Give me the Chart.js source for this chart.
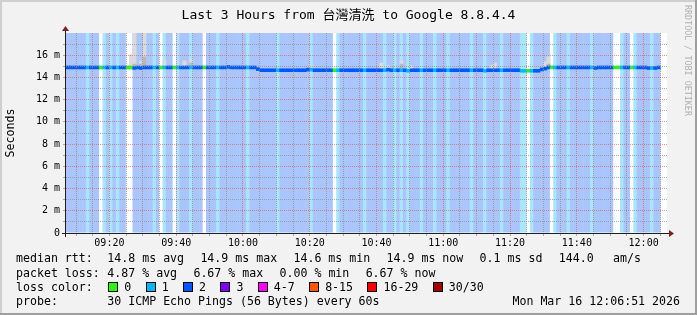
<!DOCTYPE html>
<html>
<head>
<meta charset="utf-8">
<script src="https://cdn.jsdelivr.net/npm/chart.js"></script>
<style>
  html, body { margin: 0; padding: 0; background: #f2f2f2; }
  #wrap { position: relative; width: 697px; height: 315px; overflow: hidden;
          font-family: 'DejaVu Sans Mono', 'Noto Sans CJK TC', monospace; color: #000; }
  #c { position: absolute; left: 0; top: 0; }
  .title { position: absolute; left: 0; top: 7px; width: 697px; text-align: center;
           font-size: 13px; line-height: 16px; white-space: pre; }
  .mark { position: absolute; left: 683px; top: 5px; writing-mode: vertical-rl;
          font-size: 8.4px; line-height: 9px; color: #b0b0b0; white-space: pre; }
  .row { position: absolute; left: 16px; font-size: 11.6px; line-height: 14px; white-space: pre; }
  .row .lbl { display: inline-block; width: 91.3px; }
  .row .itm { display: inline-block; margin-right: 16.3px; }
  .row .box { display: inline-block; width: 8px; height: 8px; border: 1px solid #000;
              vertical-align: -1px; margin-right: 6px; }
  .row .leg { display: inline-block; margin-right: 14.4px; }
  .date { position: absolute; right: 17px; top: 294px; font-size: 11.6px; line-height: 14px; white-space: pre; }
</style>
</head>
<body>
<div id="wrap">
  <canvas id="c" width="697" height="315"></canvas>
  <div class="title">Last 3 Hours from 台灣清洗 to Google 8.8.4.4</div>
  <div class="mark">RRDTOOL / TOBI OETIKER</div>
  <div class="row" id="rttRow" style="top:251px"></div>
  <div class="row" id="lossRow" style="top:266px"></div>
  <div class="row" id="legRow" style="top:280px"></div>
  <div class="row" id="probeRow" style="top:294px"></div>
  <div class="date" id="dateTxt"></div>
</div>
<script>
// --- data ----------------------------------------------------------------
// one column per minute, first column starts 09:07
const firstMinute = 7;            // minutes after 09:00
const spanMinutes = 180;

// lost pings (out of 30) per minute
const lossCount = [
  2,2,2,2,2,2,1,2,2,2,   // 09:07
  0,1,2,1,2,1,2,2,0,0,   // 09:17
  2,2,2,2,2,2,1,2,0,1,   // 09:27
  2,2,0,1,2,2,2,1,2,2,   // 09:37
  2,0,2,2,2,1,2,2,2,2,   // 09:47
  2,2,2,2,1,2,2,2,2,2,   // 09:57
  2,2,2,1,2,2,2,2,2,2,   // 10:07
  2,2,2,1,2,2,2,2,2,2,   // 10:17
  0,1,2,2,2,2,2,2,2,1,   // 10:27
  2,2,2,2,2,1,2,2,1,2,   // 10:37
  1,2,1,2,2,2,1,2,2,2,   // 10:47
  1,2,2,2,1,2,2,2,2,2,   // 10:57
  2,1,2,2,2,1,2,2,2,2,   // 11:07
  1,2,2,2,2,2,1,1,0,1,   // 11:17
  2,2,2,2,2,0,1,2,2,2,   // 11:27
  1,2,2,2,2,2,2,1,2,2,   // 11:37
  2,2,2,2,0,0,1,2,2,0,   // 11:47
  1,2,2,2,2,1,2,2        // 11:57
];

// median rtt per minute (ms)
const medianRtt = [
  14.9,14.9,14.9,14.9,14.9,14.9,14.9,14.9,14.9,14.9,
  14.9,14.9,14.9,14.9,14.9,14.9,14.9,14.9,14.9,14.9,
  14.85,14.9,14.85,14.9,14.9,14.9,14.9,14.9,14.9,14.9,
  14.9,14.9,14.9,14.9,14.9,14.9,14.9,14.9,14.9,14.9,
  14.9,14.9,14.9,14.9,14.9,14.9,14.9,14.9,14.95,14.9,
  14.9,14.9,14.9,14.9,14.9,14.9,14.9,14.75,14.65,14.65,
  14.65,14.65,14.65,14.65,14.65,14.65,14.65,14.65,14.65,14.65,
  14.65,14.65,14.7,14.7,14.65,14.65,14.65,14.65,14.65,14.65,
  14.65,14.65,14.65,14.65,14.65,14.65,14.65,14.65,14.65,14.65,
  14.65,14.65,14.65,14.65,14.65,14.65,14.7,14.65,14.65,14.65,
  14.65,14.65,14.6,14.65,14.65,14.65,14.65,14.65,14.65,14.65,
  14.65,14.65,14.65,14.65,14.65,14.65,14.65,14.65,14.65,14.65,
  14.65,14.65,14.65,14.65,14.65,14.6,14.65,14.65,14.65,14.65,
  14.65,14.65,14.65,14.65,14.65,14.65,14.6,14.6,14.6,14.6,
  14.6,14.6,14.72,14.8,14.9,14.9,14.9,14.9,14.9,14.9,
  14.9,14.9,14.9,14.9,14.9,14.9,14.9,14.9,14.85,14.9,
  14.9,14.9,14.9,14.9,14.9,14.9,14.9,14.9,14.9,14.9,
  14.9,14.9,14.9,14.9,14.85,14.85,14.85,14.9
];

// smoke (spread of the pings) where it shows above the median
const smokeCols = [19, 20, 22, 23, 29, 34, 35, 37, 48, 73, 94, 96, 100, 103, 127, 128, 143, 144];
const smokeTop  = [16.05, 18, 15.5, 18, 15.5, 15.1, 15.5, 15.65, 15.1, 15.1, 15.3, 15.05, 15.5, 15.05, 15.1, 15.3, 15.4, 15.85];
const smokeCore = [null, 15.2, 15.2, 15.85, null, null, null, 15.3, null, null, null, null, 15.2, null, null, null, null, 15.2];

const timeTicks = ['09:20', '09:40', '10:00', '10:20', '10:40', '11:00', '11:20', '11:40', '12:00'];
const rttTicks  = ['0', '2 m', '4 m', '6 m', '8 m', '10 m', '12 m', '14 m', '16 m'];

const rttStats  = ['14.8 ms avg', '14.9 ms max', '14.6 ms min', '14.9 ms now', '0.1 ms sd', '144.0', 'am/s'];
const lossStats = ['4.87 % avg', '6.67 % max', '0.00 % min', '6.67 % now'];
const legendLabels = ['0', '1', '2', '3', '4-7', '8-15', '16-29', '30/30'];
const legendColors = ['#26ff00', '#00b8ff', '#0059ff', '#7e00ff', '#ff00ff', '#ff5500', '#ff0000', '#a10000'];
const probeText = '30 ICMP Echo Pings (56 Bytes) every 60s';
const dateText  = 'Mon Mar 16 12:06:51 2026';

// --- styling ---------------------------------------------------------------
const MONO = "'DejaVu Sans Mono', monospace";
const lossShade = ['#ffffff', '#a9e5fd', '#a9c5fc'];   // column background by loss
const GRID  = 'rgba(143,143,143,0.75)';
const MGRID = 'rgba(222,79,79,0.6)';
const lineHalf = 0.13;                                  // half thickness of median mark (ms)

// --- text rows under the graph ----------------------------------------------
function fillRow(id, label, items, cls) {
  const row = document.getElementById(id);
  row.innerHTML = `<span class="lbl">${label}</span>` +
    items.map((t, i) => `<span class="${cls}"${i === 6 ? ' style="margin-left:3px"' : ''}>${t}</span>`).join('');
}
fillRow('rttRow', 'median rtt:', rttStats, 'itm');
fillRow('lossRow', 'packet loss:', lossStats, 'itm');
document.getElementById('legRow').innerHTML = '<span class="lbl" style="width:92.3px">loss color:</span>' +
  legendLabels.map((l, i) => `<span class="box" style="background:${legendColors[i]}"></span><span class="leg">${l}</span>`).join('');
fillRow('probeRow', 'probe:', [probeText], 'itm');
document.getElementById('dateTxt').textContent = dateText;

// --- chart ---------------------------------------------------------------
const colX = lossCount.map((_, i) => firstMinute + i + 0.5);

const frame = {
  id: 'frame',
  beforeDraw(chart) {
    const { ctx, width, height, chartArea: a } = chart;
    ctx.save();
    ctx.fillStyle = '#f2f2f2';
    ctx.fillRect(0, 0, width, height);
    ctx.fillStyle = '#cfcfcf';
    ctx.fillRect(0, 0, width, 2);
    ctx.fillRect(0, 0, 2, height);
    ctx.fillStyle = '#9e9e9e';
    ctx.fillRect(0, height - 2, width, 2);
    ctx.fillRect(width - 2, 0, 2, height);
    ctx.fillStyle = '#ffffff';
    ctx.fillRect(a.left, a.top, a.right - a.left, a.bottom - a.top);
    ctx.restore();
  }
};

// axis lines with the little rrdtool arrows
const axisArrows = {
  id: 'axisArrows',
  afterDraw(chart) {
    const { ctx, chartArea: a } = chart;
    const ax = a.left - 0.5, ay = a.bottom + 0.5;
    ctx.save();
    ctx.strokeStyle = '#1f1f1f';
    ctx.lineWidth = 1;
    ctx.beginPath();
    ctx.moveTo(a.left - 4, ay); ctx.lineTo(a.right + 3, ay);
    ctx.moveTo(ax, a.bottom + 4); ctx.lineTo(ax, a.top - 3);
    ctx.stroke();
    ctx.fillStyle = '#801f1f';
    ctx.beginPath();
    ctx.moveTo(a.right + 2, ay - 3.5); ctx.lineTo(a.right + 7, ay); ctx.lineTo(a.right + 2, ay + 3.5);
    ctx.closePath(); ctx.fill();
    ctx.beginPath();
    ctx.moveTo(ax - 3.5, a.top - 2); ctx.lineTo(ax, a.top - 7); ctx.lineTo(ax + 3.5, a.top - 2);
    ctx.closePath(); ctx.fill();
    ctx.restore();
  }
};

// grid colour: red on labelled ticks, grey otherwise
const gridColor = (every) => (c) => (c.tick && c.tick.value % every === 0 ? MGRID : GRID);

const barBase = { type: 'bar', grouped: false, borderWidth: 0, borderSkipped: false,
                  barPercentage: 1, categoryPercentage: 1 };

const cfg = {
  type: 'bar',
  data: {
    datasets: [
      { ...barBase, label: 'median rtt', order: 0,
        data: medianRtt.map((m, i) => ({ x: colX[i], y: [m - lineHalf, m + lineHalf] })),
        backgroundColor: lossCount.map(l => legendColors[l]) },
      { ...barBase, label: 'smoke core', order: 1,
        data: smokeCols.filter((c, i) => smokeCore[i] != null)
                       .map(c => ({ x: colX[c], y: [medianRtt[c], smokeCore[smokeCols.indexOf(c)]] })),
        backgroundColor: '#b8b8b8' },
      { ...barBase, label: 'smoke', order: 2,
        data: smokeCols.map((c, i) => ({ x: colX[c], y: [medianRtt[c], smokeTop[i]] })),
        backgroundColor: '#dadada' },
      { ...barBase, label: 'loss', order: 3, barPercentage: 1.15,
        data: lossCount.map((l, i) => ({ x: colX[i], y: [0, 18] })),
        backgroundColor: lossCount.map(l => lossShade[l]) }
    ]
  },
  options: {
    responsive: false,
    devicePixelRatio: 1,
    animation: false,
    layout: { padding: { left: 0, right: 30, top: 33, bottom: 62 } },
    plugins: { legend: { display: false }, tooltip: { enabled: false }, title: { display: false } },
    scales: {
      x: {
        type: 'linear',
        offset: false,
        min: firstMinute,
        max: firstMinute + spanMinutes,
        afterBuildTicks: (scale) => {
          const t = [];
          for (let v = 10; v < firstMinute + spanMinutes; v += 5) t.push({ value: v });
          scale.ticks = t;
        },
        afterFit: (scale) => { scale.height = 20; scale.paddingLeft = 0; scale.paddingRight = 0; },
        grid: {
          offset: false,
          color: gridColor(20),
          tickColor: gridColor(20),
          lineWidth: 1, tickLength: 3, z: 1
        },
        border: { display: false, dash: [1, 1] },
        ticks: {
          autoSkip: false, maxRotation: 0, padding: 1, color: '#000',
          font: { family: MONO, size: 10 },
          callback: (v) => (v % 20 === 0 ? timeTicks[v / 20 - 1] : '')
        }
      },
      y: {
        type: 'linear',
        min: 0,
        max: 18,
        afterBuildTicks: (scale) => {
          const t = [];
          for (let v = 0; v < 18; v++) t.push({ value: v });
          scale.ticks = t;
        },
        afterFit: (scale) => { scale.width = 66; scale.paddingTop = 0; scale.paddingBottom = 0; },
        title: { display: true, text: 'Seconds', color: '#000',
                 font: { family: MONO, size: 11.6 }, padding: { top: 4, bottom: 0 } },
        grid: {
          color: gridColor(2),
          tickColor: gridColor(2),
          lineWidth: 1, tickLength: 3, z: 1
        },
        border: { display: false, dash: [1, 1] },
        ticks: {
          autoSkip: false, padding: 3, color: '#000',
          font: { family: MONO, size: 10 },
          callback: (v) => (v % 2 === 0 ? rttTicks[v / 2] : '')
        }
      }
    }
  },
  plugins: [frame, axisArrows]
};

new Chart(document.getElementById('c'), cfg);
</script>
</body>
</html>
